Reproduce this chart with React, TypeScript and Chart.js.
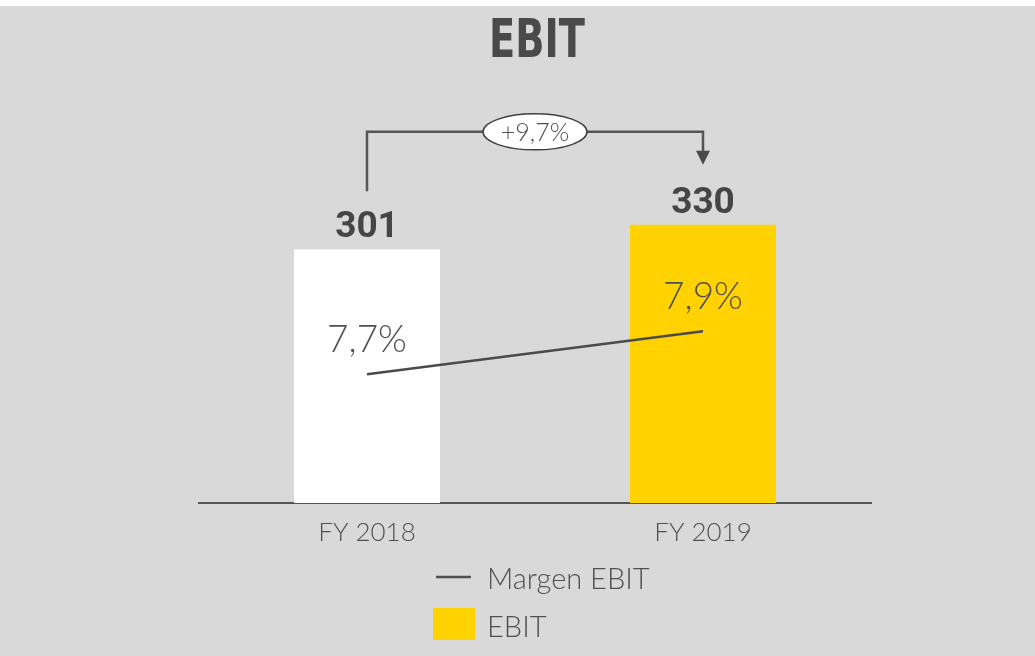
import React, { useEffect, useRef } from "react";
import { Chart, registerables } from "chart.js";

Chart.register(...registerables);

const categories = ["FY 2018", "FY 2019"];
const ebitValues = [301, 330];
const marginValues = [7.7, 7.9];
const marginLabels = ["7,7%", "7,9%"];
const barColors = ["#ffffff", "#ffd200"];
const seriesNames = ["Margen EBIT", "EBIT"];
const growthLabel = "+9,7%";
const titleText = "EBIT";

const TEXT = "#454545";
const THIN_TEXT = "#505050";
const THIN = "Lato, 'Liberation Sans', sans-serif";

const bgPlugin = {
  id: "bgPlugin",
  beforeDraw(chart: any) {
    const { ctx, width, height } = chart;
    ctx.save();
    ctx.fillStyle = "#ffffff";
    ctx.fillRect(0, 0, width, height);
    ctx.fillStyle = "#d9d9d9";
    ctx.fillRect(0, 6, width, height - 6);
    ctx.restore();
  },
};

const annotPlugin = {
  id: "annotPlugin",
  afterDatasetsDraw(chart: any) {
    const { ctx } = chart;
    const x = chart.scales.x;
    const y = chart.scales.y;
    const y2 = chart.scales.y2;
    ctx.save();
    // value labels
    ctx.fillStyle = TEXT;
    ctx.textAlign = "center";
    ctx.textBaseline = "alphabetic";
    ctx.font = "bold 37px Roboto, 'Liberation Sans', sans-serif";
    ebitValues.forEach((v, i) => {
      ctx.fillText(String(v), x.getPixelForValue(i), y.getPixelForValue(v) - 12);
    });
    // margin labels
    ctx.fillStyle = THIN_TEXT;
    ctx.font = "300 37px " + THIN;
    marginValues.forEach((v, i) => {
      ctx.fillText(marginLabels[i], x.getPixelForValue(i), y2.getPixelForValue(v) - 22);
    });
    // bracket
    const x1 = x.getPixelForValue(0);
    const x2 = x.getPixelForValue(1);
    const yStart = y.getPixelForValue(ebitValues[0]) - 58;
    const yTop = y.getPixelForValue(ebitValues[1]) - 93;
    const yTip = y.getPixelForValue(ebitValues[1]) - 60;
    ctx.strokeStyle = "#555555";
    ctx.lineWidth = 2.5;
    ctx.beginPath();
    ctx.moveTo(x1, yStart);
    ctx.lineTo(x1, yTop);
    ctx.lineTo(x2, yTop);
    ctx.lineTo(x2, yTip - 12);
    ctx.stroke();
    ctx.fillStyle = "#4a4a4a";
    ctx.beginPath();
    ctx.moveTo(x2 - 7, yTip - 14);
    ctx.lineTo(x2 + 7, yTip - 14);
    ctx.lineTo(x2, yTip);
    ctx.closePath();
    ctx.fill();
    const cx = (x1 + x2) / 2;
    ctx.beginPath();
    ctx.ellipse(cx, yTop, 52, 18, 0, 0, Math.PI * 2);
    ctx.fillStyle = "#ffffff";
    ctx.fill();
    ctx.lineWidth = 1.5;
    ctx.strokeStyle = "#404040";
    ctx.stroke();
    ctx.fillStyle = THIN_TEXT;
    ctx.font = "300 25px " + THIN;
    ctx.textBaseline = "middle";
    ctx.fillText(growthLabel, cx, yTop + 1);
    ctx.restore();
  },
  afterDraw(chart: any) {
    const { ctx } = chart;
    const x = chart.scales.x;
    ctx.save();
    // title (condensed bold), centred over the two categories
    ctx.fillStyle = "#4a4a4a";
    ctx.font = "bold 54px 'DejaVu Sans Condensed', 'DejaVu Sans', sans-serif";
    ctx.textAlign = "center";
    ctx.textBaseline = "alphabetic";
    const titleX = (x.getPixelForValue(0) + x.getPixelForValue(1)) / 2 + 2;
    ctx.translate(titleX, 57);
    ctx.scale(0.79, 1);
    ctx.fillText(titleText, 0, 0);
    ctx.restore();

    ctx.save();
    // legend
    ctx.strokeStyle = THIN_TEXT;
    ctx.lineWidth = 2.5;
    ctx.beginPath();
    ctx.moveTo(436, 577);
    ctx.lineTo(471, 577);
    ctx.stroke();
    ctx.fillStyle = barColors[1];
    ctx.fillRect(433, 608, 42, 32);
    ctx.fillStyle = THIN_TEXT;
    ctx.font = "300 29px " + THIN;
    ctx.textAlign = "left";
    ctx.textBaseline = "alphabetic";
    ctx.fillText(seriesNames[0], 487, 589);
    ctx.fillText(seriesNames[1], 487, 637);
    ctx.restore();
  },
};

export default function App() {
  const ref = useRef<HTMLCanvasElement | null>(null);
  useEffect(() => {
    document.body.style.margin = "0";
    const canvas = ref.current;
    if (!canvas) return;
    const chart = new Chart(canvas, {
      type: "bar",
      data: {
        labels: categories,
        datasets: [
          {
            type: "line",
            label: seriesNames[0],
            data: marginValues,
            yAxisID: "y2",
            borderColor: "#4a4a4a",
            borderWidth: 2.5,
            pointRadius: 0,
            order: 0,
          } as any,
          {
            type: "bar",
            label: seriesNames[1],
            data: ebitValues,
            yAxisID: "y",
            backgroundColor: barColors,
            borderWidth: 0,
            barPercentage: 0.4345,
            categoryPercentage: 1,
            order: 1,
          },
        ],
      },
      options: {
        responsive: false,
        animation: false,
        layout: { padding: { left: 199, right: 164, top: 149, bottom: 93 } },
        plugins: {
          legend: { display: false },
          tooltip: { enabled: false },
          title: { display: false },
        },
        scales: {
          x: {
            grid: { display: false, drawTicks: false },
            border: { display: true, color: "#555555", width: 2 },
            ticks: {
              color: THIN_TEXT,
              padding: 14,
              font: { family: THIN, size: 26, weight: "300" },
            },
            afterFit(scale: any) {
              scale.height = 60;
            },
          },
          y: { display: false, min: 0, max: 420 },
          y2: { display: false, min: 7.1, max: 8.75, position: "right" },
        },
      },
      plugins: [bgPlugin, annotPlugin],
    });
    return () => chart.destroy();
  }, []);
  return (
    <div style={{ width: 1035, height: 656 }}>
      <canvas ref={ref} width={1035} height={656} style={{ display: "block" }} />
    </div>
  );
}
